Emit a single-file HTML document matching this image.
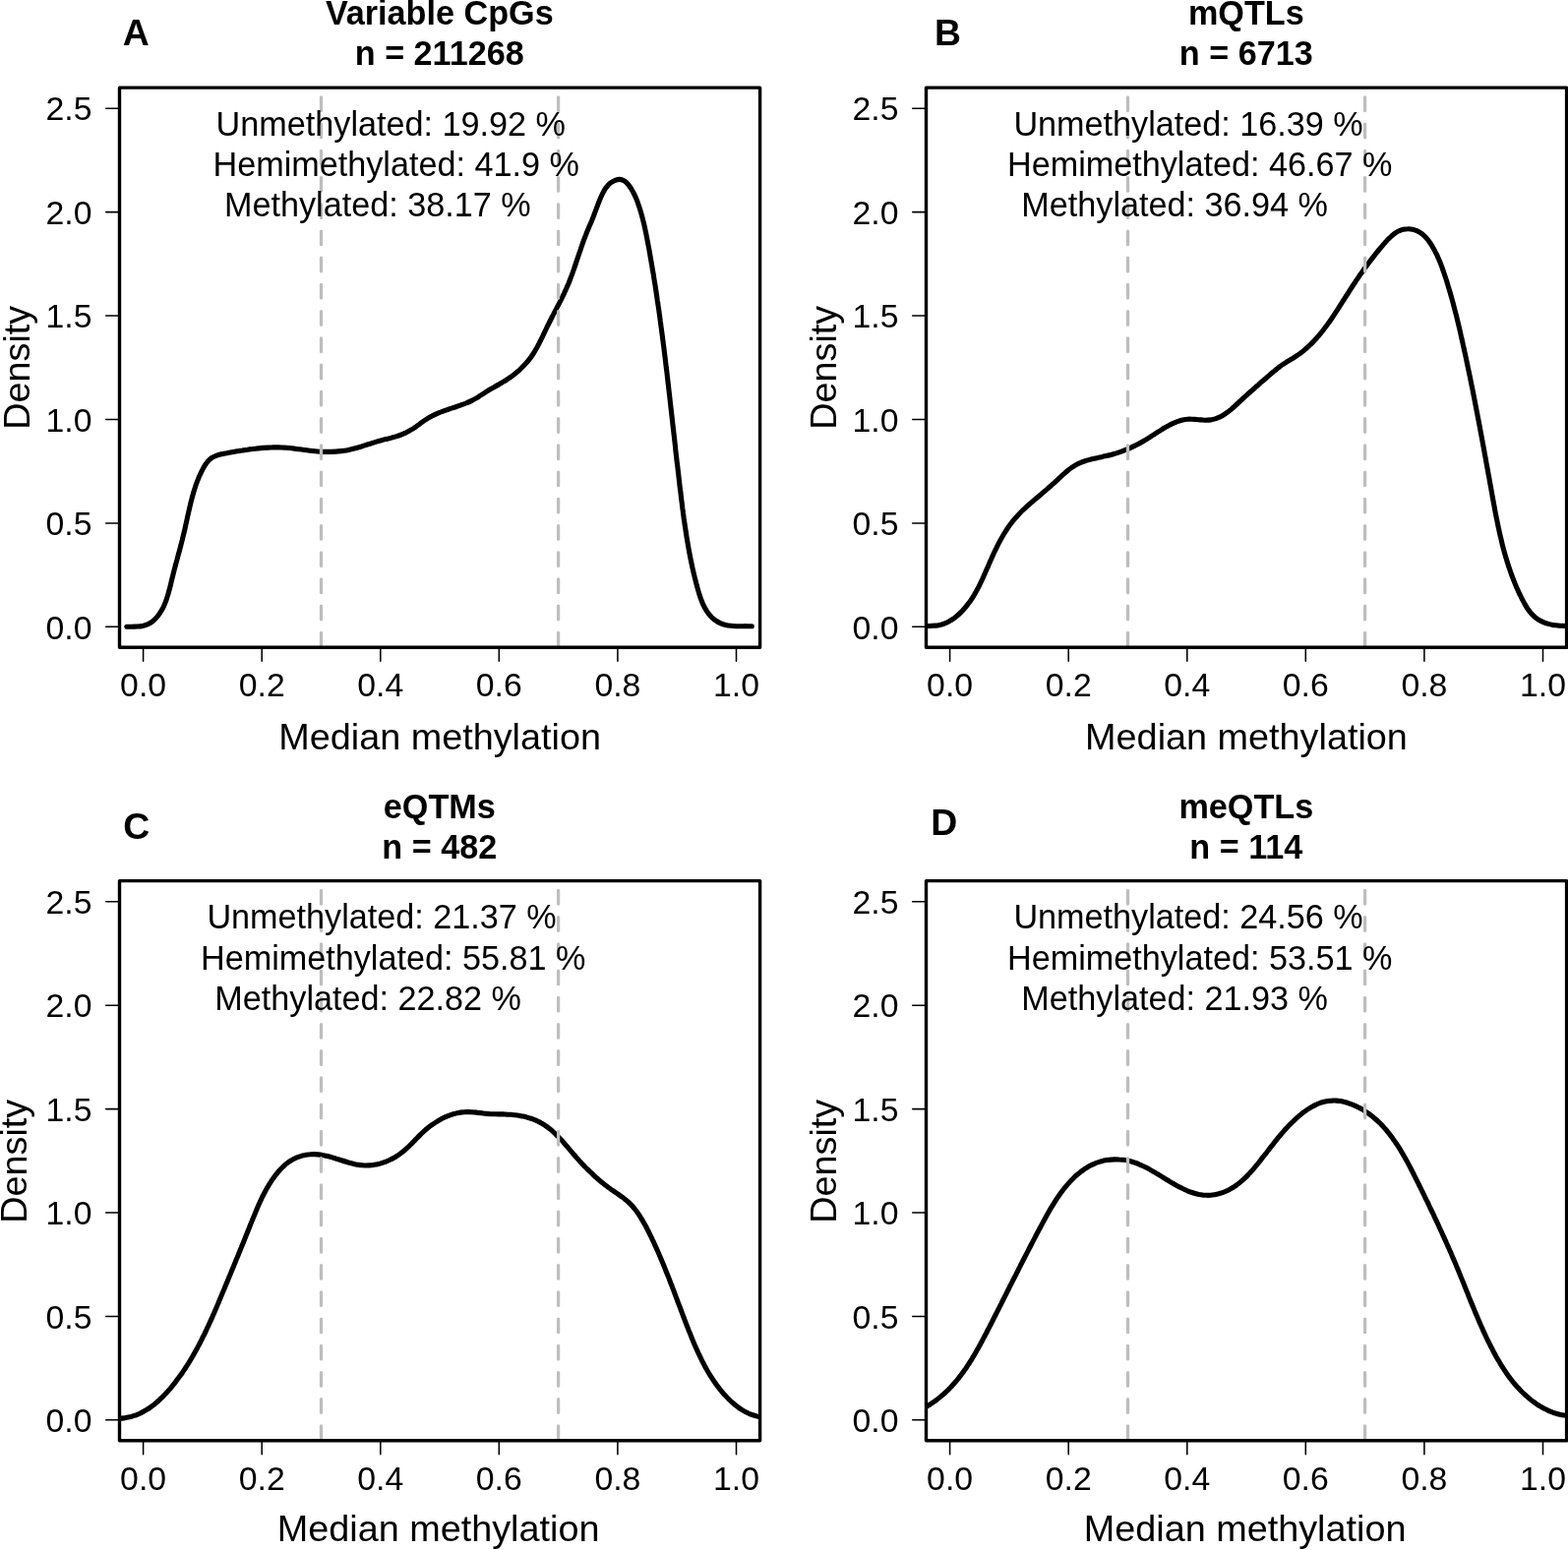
<!DOCTYPE html>
<html lang="en"><head><meta charset="utf-8"><title>Median methylation density</title>
<style>
html,body{margin:0;padding:0;background:#fff;}
body{width:1594px;height:1576px;overflow:hidden;}
svg{display:block;font-family:"Liberation Sans", sans-serif;fill:#000;}
.ax{font-size:33.8px;}
.lab{font-size:37.8px;}
.main{font-size:34.2px;font-weight:bold;}
.tag{font-size:37.4px;font-weight:bold;}
.txt{font-size:34.2px;}
.box{fill:none;stroke:#000;stroke-width:3.4;stroke-linejoin:round;}
.tick{stroke:#000;stroke-width:1.55;fill:none;stroke-linecap:round;}
.dash{stroke:#bebebe;stroke-width:3.3;stroke-dasharray:13.615 13.615;stroke-linecap:round;fill:none;}
.curve{fill:none;stroke:#000;stroke-width:5.1;stroke-linecap:round;stroke-linejoin:round;}
</style></head><body>
<svg width="1594" height="1576" viewBox="0 0 1594 1576">
<rect x="0" y="0" width="1594" height="1576" fill="#fff"/>

<g id="panelA">
<clipPath id="clipA"><rect x="121.5" y="89.1" width="651.1" height="569.2"/></clipPath>
<path class="curve" clip-path="url(#clipA)" d="M128.8,637.3C129.7,637.2 132.2,637.2 133.9,637.2C135.7,637.1 137.6,637.1 139.4,637.0C141.2,636.9 143.1,636.8 144.8,636.4C146.6,636.1 148.3,635.6 149.9,634.9C151.5,634.2 153.0,633.3 154.4,632.3C155.8,631.3 157.1,630.1 158.3,628.8C159.6,627.5 160.7,626.1 161.7,624.6C162.8,623.2 163.7,621.7 164.6,620.1C165.4,618.6 166.2,617.0 166.9,615.4C167.7,613.8 168.3,612.1 168.9,610.5C169.5,608.8 170.0,607.1 170.5,605.4C171.1,603.8 171.5,602.0 172.0,600.3C172.4,598.6 172.9,596.9 173.3,595.1C173.7,593.4 174.1,591.7 174.5,590.0C175.0,588.2 175.4,586.5 175.8,584.8C176.2,583.1 176.7,581.4 177.1,579.6C177.6,577.9 178.0,576.2 178.5,574.5C178.9,572.8 179.4,571.1 179.9,569.4C180.3,567.7 180.8,566.0 181.2,564.3C181.7,562.6 182.2,560.9 182.6,559.1C183.1,557.4 183.5,555.7 184.0,554.0C184.4,552.3 184.8,550.6 185.3,548.9C185.7,547.2 186.1,545.5 186.5,543.7C187.0,542.0 187.4,540.3 187.8,538.6C188.2,536.8 188.5,535.1 188.9,533.4C189.3,531.6 189.7,529.9 190.1,528.2C190.4,526.4 190.8,524.7 191.2,523.0C191.6,521.2 192.0,519.5 192.4,517.8C192.8,516.0 193.2,514.3 193.6,512.6C194.0,510.9 194.4,509.2 194.9,507.4C195.3,505.7 195.8,504.0 196.3,502.3C196.8,500.6 197.3,498.9 197.8,497.3C198.4,495.6 198.9,493.9 199.5,492.2C200.1,490.6 200.7,488.9 201.4,487.3C202.0,485.7 202.7,484.0 203.5,482.4C204.2,480.8 205.0,479.2 205.8,477.6C206.6,476.1 207.4,474.5 208.4,473.0C209.4,471.5 210.4,470.0 211.6,468.7C212.8,467.4 214.1,466.2 215.6,465.3C217.1,464.4 218.7,463.7 220.3,463.1C221.9,462.5 223.7,462.1 225.4,461.7C227.1,461.3 228.8,461.0 230.6,460.7C232.3,460.3 234.1,460.0 235.9,459.7C237.6,459.4 239.4,459.1 241.1,458.8C242.9,458.5 244.6,458.2 246.4,458.0C248.2,457.7 249.9,457.4 251.7,457.2C253.4,456.9 255.2,456.7 257.0,456.5C258.7,456.3 260.5,456.1 262.2,455.9C264.0,455.7 265.8,455.6 267.5,455.4C269.3,455.3 271.1,455.2 272.8,455.1C274.6,455.0 276.3,455.0 278.1,454.9C279.9,454.9 281.6,454.9 283.4,454.9C285.1,455.0 286.9,455.0 288.7,455.1C290.4,455.2 292.2,455.4 293.9,455.5C295.7,455.7 297.4,455.9 299.2,456.1C300.9,456.3 302.7,456.6 304.5,456.8C306.2,457.1 308.0,457.3 309.7,457.5C311.5,457.8 313.2,458.0 315.0,458.2C316.8,458.4 318.5,458.6 320.3,458.8C322.1,459.0 323.9,459.1 325.6,459.2C327.4,459.3 329.2,459.4 331.0,459.4C332.8,459.4 334.5,459.4 336.3,459.4C338.1,459.3 339.9,459.2 341.6,459.1C343.4,459.0 345.2,458.8 346.9,458.6C348.7,458.4 350.4,458.2 352.2,457.9C353.9,457.6 355.6,457.2 357.3,456.8C359.0,456.4 360.7,456.0 362.4,455.5C364.1,455.0 365.8,454.5 367.5,454.0C369.2,453.4 370.9,452.9 372.6,452.3C374.2,451.8 375.9,451.2 377.6,450.7C379.3,450.1 381.0,449.6 382.7,449.1C384.4,448.6 386.1,448.1 387.8,447.7C389.5,447.2 391.3,446.8 393.0,446.4C394.7,446.0 396.5,445.6 398.2,445.1C399.9,444.7 401.6,444.2 403.3,443.6C404.9,443.1 406.6,442.5 408.2,441.8C409.9,441.2 411.5,440.4 413.0,439.7C414.6,438.9 416.2,438.0 417.7,437.1C419.2,436.3 420.7,435.3 422.2,434.3C423.7,433.3 425.1,432.2 426.5,431.2C428.0,430.1 429.4,429.0 430.8,428.0C432.3,427.0 433.8,426.0 435.3,425.1C436.8,424.2 438.4,423.4 439.9,422.6C441.5,421.8 443.1,421.1 444.7,420.4C446.4,419.7 448.0,419.0 449.7,418.4C451.3,417.8 453.0,417.2 454.7,416.6C456.4,416.0 458.0,415.4 459.7,414.9C461.4,414.3 463.1,413.7 464.8,413.2C466.5,412.6 468.1,412.0 469.8,411.4C471.5,410.8 473.1,410.2 474.8,409.5C476.4,408.9 478.0,408.2 479.6,407.4C481.1,406.6 482.7,405.8 484.2,404.9C485.7,404.0 487.1,403.0 488.6,402.0C490.1,401.0 491.6,400.0 493.1,399.1C494.6,398.1 496.1,397.2 497.6,396.3C499.1,395.4 500.6,394.5 502.2,393.7C503.7,392.8 505.2,391.9 506.8,391.1C508.3,390.2 509.8,389.3 511.3,388.4C512.9,387.5 514.4,386.6 515.8,385.6C517.3,384.6 518.8,383.6 520.2,382.6C521.6,381.5 523.1,380.4 524.4,379.3C525.8,378.1 527.2,377.0 528.5,375.8C529.8,374.5 531.1,373.3 532.3,372.0C533.5,370.7 534.7,369.4 535.9,368.1C537.0,366.7 538.1,365.3 539.2,363.9C540.2,362.5 541.2,361.0 542.2,359.5C543.1,358.1 544.0,356.6 544.9,355.0C545.8,353.5 546.6,351.9 547.4,350.4C548.3,348.8 549.0,347.2 549.8,345.7C550.6,344.1 551.4,342.5 552.1,340.9C552.9,339.3 553.6,337.7 554.4,336.1C555.2,334.5 555.9,332.8 556.7,331.3C557.5,329.7 558.3,328.1 559.1,326.5C559.9,324.9 560.7,323.3 561.5,321.8C562.3,320.2 563.2,318.6 564.0,317.0C564.8,315.5 565.6,313.9 566.4,312.3C567.3,310.8 568.1,309.2 568.9,307.6C569.7,306.0 570.5,304.5 571.3,302.9C572.0,301.3 572.8,299.7 573.6,298.1C574.3,296.5 575.1,294.9 575.8,293.3C576.5,291.7 577.2,290.0 577.9,288.4C578.5,286.8 579.2,285.1 579.8,283.5C580.5,281.8 581.1,280.2 581.7,278.5C582.3,276.8 582.9,275.2 583.5,273.5C584.0,271.8 584.6,270.1 585.2,268.5C585.7,266.8 586.3,265.1 586.9,263.4C587.4,261.7 588.0,260.0 588.6,258.4C589.1,256.7 589.7,255.0 590.3,253.3C590.8,251.6 591.4,250.0 592.0,248.3C592.6,246.6 593.2,245.0 593.8,243.3C594.4,241.7 595.0,240.0 595.7,238.4C596.3,236.7 597.0,235.1 597.7,233.5C598.4,231.8 599.1,230.2 599.8,228.6C600.5,227.0 601.2,225.4 601.9,223.7C602.5,222.1 603.1,220.4 603.8,218.8C604.4,217.1 605.0,215.4 605.6,213.8C606.2,212.1 606.8,210.5 607.5,208.9C608.1,207.2 608.8,205.6 609.4,204.0C610.1,202.3 610.8,200.7 611.5,199.1C612.3,197.4 613.0,195.8 613.9,194.2C614.7,192.7 615.7,191.2 616.8,189.8C617.9,188.4 619.1,187.1 620.5,186.0C621.9,185.0 623.6,183.9 625.3,183.3C627.0,182.7 628.9,182.2 630.5,182.4C632.1,182.5 633.6,183.3 635.0,184.2C636.4,185.1 637.6,186.5 638.8,187.8C639.9,189.2 641.0,190.8 641.9,192.3C642.9,193.8 643.7,195.4 644.5,197.0C645.3,198.6 646.0,200.2 646.7,201.8C647.4,203.5 648.0,205.1 648.6,206.8C649.2,208.5 649.7,210.2 650.3,211.8C650.8,213.5 651.3,215.2 651.8,216.9C652.3,218.6 652.7,220.3 653.2,222.0C653.6,223.7 654.1,225.5 654.5,227.2C654.9,228.9 655.3,230.6 655.7,232.4C656.0,234.1 656.4,235.8 656.8,237.6C657.1,239.3 657.5,241.0 657.8,242.8C658.1,244.5 658.5,246.2 658.8,248.0C659.1,249.7 659.4,251.5 659.8,253.2C660.1,255.0 660.4,256.7 660.7,258.4C661.0,260.2 661.3,261.9 661.6,263.7C661.9,265.4 662.2,267.2 662.5,268.9C662.8,270.7 663.1,272.4 663.4,274.2C663.7,275.9 664.0,277.6 664.3,279.4C664.6,281.1 664.8,282.9 665.1,284.6C665.4,286.4 665.7,288.1 666.0,289.9C666.2,291.6 666.5,293.4 666.8,295.1C667.0,296.9 667.3,298.6 667.6,300.4C667.8,302.1 668.1,303.9 668.3,305.6C668.6,307.4 668.9,309.1 669.1,310.9C669.4,312.6 669.6,314.4 669.9,316.1C670.1,317.9 670.4,319.6 670.6,321.4C670.8,323.1 671.1,324.9 671.3,326.6C671.6,328.4 671.8,330.2 672.0,331.9C672.3,333.7 672.5,335.4 672.7,337.2C673.0,338.9 673.2,340.7 673.4,342.4C673.6,344.2 673.9,345.9 674.1,347.7C674.3,349.4 674.5,351.2 674.8,353.0C675.0,354.7 675.2,356.5 675.4,358.2C675.6,360.0 675.9,361.7 676.1,363.5C676.3,365.2 676.5,367.0 676.7,368.8C676.9,370.5 677.1,372.3 677.3,374.0C677.6,375.8 677.8,377.5 678.0,379.3C678.2,381.1 678.4,382.8 678.6,384.6C678.8,386.3 679.0,388.1 679.2,389.9C679.4,391.6 679.6,393.4 679.8,395.1C680.0,396.9 680.2,398.6 680.4,400.4C680.6,402.2 680.8,403.9 681.0,405.7C681.2,407.4 681.4,409.2 681.6,411.0C681.8,412.7 682.0,414.5 682.2,416.2C682.4,418.0 682.6,419.8 682.8,421.5C683.0,423.3 683.2,425.0 683.4,426.8C683.6,428.6 683.8,430.3 684.0,432.1C684.2,433.8 684.4,435.6 684.6,437.4C684.8,439.1 685.0,440.9 685.2,442.6C685.4,444.4 685.6,446.2 685.8,447.9C686.0,449.7 686.2,451.4 686.4,453.2C686.6,455.0 686.7,456.7 686.9,458.5C687.1,460.2 687.3,462.0 687.5,463.8C687.7,465.5 687.9,467.3 688.1,469.0C688.3,470.8 688.6,472.6 688.8,474.3C689.0,476.1 689.2,477.8 689.4,479.6C689.6,481.4 689.8,483.1 690.0,484.9C690.2,486.7 690.4,488.4 690.6,490.2C690.8,491.9 691.0,493.7 691.2,495.5C691.4,497.2 691.7,499.0 691.9,500.7C692.1,502.5 692.3,504.3 692.5,506.0C692.7,507.8 692.9,509.5 693.2,511.3C693.4,513.1 693.6,514.8 693.8,516.6C694.1,518.3 694.3,520.1 694.5,521.8C694.8,523.6 695.0,525.4 695.2,527.1C695.5,528.9 695.7,530.6 696.0,532.4C696.2,534.1 696.5,535.9 696.8,537.6C697.0,539.4 697.3,541.1 697.6,542.9C697.8,544.6 698.1,546.4 698.4,548.1C698.7,549.9 699.0,551.6 699.3,553.4C699.6,555.1 699.9,556.8 700.2,558.6C700.5,560.3 700.8,562.1 701.2,563.8C701.5,565.5 701.8,567.3 702.2,569.0C702.5,570.7 702.9,572.5 703.3,574.2C703.6,575.9 704.0,577.6 704.4,579.3C704.8,581.1 705.2,582.8 705.6,584.5C706.0,586.2 706.4,587.9 706.9,589.6C707.3,591.4 707.8,593.1 708.2,594.8C708.7,596.5 709.1,598.2 709.6,599.9C710.1,601.6 710.6,603.3 711.1,604.9C711.7,606.6 712.2,608.3 712.9,610.0C713.5,611.6 714.2,613.3 714.9,614.9C715.7,616.6 716.5,618.2 717.5,619.7C718.4,621.3 719.4,622.8 720.5,624.2C721.6,625.6 722.8,627.0 724.0,628.2C725.3,629.4 726.7,630.5 728.2,631.4C729.6,632.4 731.2,633.2 732.8,633.9C734.4,634.6 736.1,635.1 737.8,635.5C739.5,635.9 741.2,636.1 743.0,636.3C744.8,636.5 746.6,636.6 748.4,636.7C750.2,636.7 752.0,636.7 753.8,636.7C755.5,636.7 757.3,636.6 759.1,636.7C760.9,636.7 763.5,636.8 764.3,636.8"/>
<path class="dash" d="M326.5,657.1V89.1"/>
<path class="dash" d="M567.6,657.1V89.1"/>
<text class="txt" x="219.6" y="137.9">Unmethylated: 19.92 %</text>
<text class="txt" x="216.5" y="179.2">Hemimethylated: 41.9 %</text>
<text class="txt" x="228.0" y="220.0">Methylated: 38.17 %</text>
<rect class="box" x="121.5" y="89.1" width="651.1" height="569.2"/>
<path class="tick" d="M145.6,658.4v13.8M266.2,658.4v13.8M386.8,658.4v13.8M507.3,658.4v13.8M627.9,658.4v13.8M748.5,658.4v13.8M121.5,637.3h-13.8M121.5,531.9h-13.8M121.5,426.4h-13.8M121.5,321.0h-13.8M121.5,215.6h-13.8M121.5,110.2h-13.8"/>
<text class="ax" text-anchor="middle" x="145.6" y="708.0">0.0</text>
<text class="ax" text-anchor="middle" x="266.2" y="708.0">0.2</text>
<text class="ax" text-anchor="middle" x="386.8" y="708.0">0.4</text>
<text class="ax" text-anchor="middle" x="507.3" y="708.0">0.6</text>
<text class="ax" text-anchor="middle" x="627.9" y="708.0">0.8</text>
<text class="ax" text-anchor="middle" x="748.5" y="708.0">1.0</text>
<text class="ax" text-anchor="end" x="93.5" y="649.5">0.0</text>
<text class="ax" text-anchor="end" x="93.5" y="544.1">0.5</text>
<text class="ax" text-anchor="end" x="93.5" y="438.6">1.0</text>
<text class="ax" text-anchor="end" x="93.5" y="333.2">1.5</text>
<text class="ax" text-anchor="end" x="93.5" y="227.8">2.0</text>
<text class="ax" text-anchor="end" x="93.5" y="122.4">2.5</text>
<text class="lab" text-anchor="middle" x="447.1" y="762.2">Median methylation</text>
<text class="lab" text-anchor="middle" transform="translate(30.2,373.8) rotate(-90)">Density</text>
<text class="main" text-anchor="middle" x="446.8" y="25.1">Variable CpGs</text>
<text class="main" text-anchor="middle" x="446.8" y="66.2">n = 211268</text>
<text class="tag" x="124.7" y="45.9">A</text>
</g>
<g id="panelB">
<clipPath id="clipB"><rect x="941.5" y="89.1" width="651.1" height="569.2"/></clipPath>
<path class="curve" clip-path="url(#clipB)" d="M936.8,636.8C937.6,636.7 939.9,636.5 941.5,636.5C943.1,636.4 944.7,636.4 946.3,636.4C947.9,636.3 949.6,636.3 951.2,636.1C952.8,636.0 954.3,635.7 955.9,635.4C957.4,635.0 958.9,634.5 960.4,633.9C961.8,633.3 963.3,632.6 964.6,631.9C966.0,631.1 967.4,630.3 968.7,629.4C970.0,628.5 971.2,627.5 972.5,626.5C973.7,625.5 974.9,624.5 976.0,623.4C977.1,622.3 978.2,621.2 979.3,620.0C980.3,618.9 981.3,617.7 982.3,616.5C983.3,615.3 984.2,614.1 985.1,612.8C986.1,611.6 986.9,610.3 987.8,609.0C988.7,607.7 989.5,606.3 990.3,605.0C991.1,603.6 991.9,602.3 992.6,600.9C993.4,599.5 994.1,598.1 994.9,596.7C995.6,595.3 996.3,593.8 997.0,592.4C997.7,591.0 998.3,589.5 999.0,588.1C999.7,586.6 1000.3,585.1 1001.0,583.7C1001.6,582.2 1002.3,580.7 1002.9,579.3C1003.6,577.8 1004.2,576.3 1004.9,574.8C1005.5,573.3 1006.1,571.9 1006.8,570.4C1007.4,568.9 1008.1,567.5 1008.7,566.0C1009.4,564.6 1010.0,563.1 1010.7,561.7C1011.4,560.2 1012.1,558.8 1012.8,557.4C1013.5,555.9 1014.2,554.5 1014.9,553.1C1015.6,551.7 1016.4,550.3 1017.1,549.0C1017.9,547.6 1018.7,546.2 1019.4,544.9C1020.2,543.5 1021.0,542.2 1021.9,540.9C1022.7,539.5 1023.6,538.2 1024.4,536.9C1025.3,535.6 1026.2,534.4 1027.1,533.1C1028.1,531.9 1029.0,530.6 1030.0,529.4C1031.0,528.2 1032.0,527.0 1033.0,525.8C1034.1,524.6 1035.2,523.5 1036.2,522.3C1037.3,521.2 1038.5,520.1 1039.6,518.9C1040.8,517.8 1041.9,516.8 1043.1,515.7C1044.3,514.6 1045.5,513.5 1046.7,512.5C1047.9,511.4 1049.1,510.4 1050.3,509.3C1051.6,508.3 1052.8,507.3 1054.0,506.3C1055.2,505.2 1056.4,504.2 1057.6,503.2C1058.8,502.2 1060.0,501.2 1061.2,500.1C1062.4,499.1 1063.5,498.1 1064.7,497.1C1065.9,496.0 1067.1,495.0 1068.3,494.0C1069.4,492.9 1070.6,491.9 1071.8,490.8C1072.9,489.8 1074.1,488.7 1075.3,487.6C1076.5,486.5 1077.6,485.4 1078.8,484.3C1080.0,483.2 1081.2,482.1 1082.4,481.1C1083.6,480.0 1084.8,479.0 1086.0,478.0C1087.3,477.0 1088.6,476.0 1089.9,475.2C1091.1,474.3 1092.5,473.4 1093.8,472.7C1095.2,471.9 1096.6,471.3 1098.0,470.7C1099.4,470.0 1100.9,469.5 1102.4,469.0C1103.8,468.5 1105.3,468.0 1106.9,467.6C1108.4,467.2 1109.9,466.8 1111.4,466.4C1113.0,466.1 1114.5,465.7 1116.1,465.4C1117.7,465.0 1119.2,464.7 1120.8,464.4C1122.4,464.0 1123.9,463.7 1125.5,463.3C1127.0,463.0 1128.6,462.6 1130.1,462.2C1131.6,461.8 1133.2,461.3 1134.7,460.9C1136.2,460.4 1137.7,459.9 1139.2,459.4C1140.7,458.8 1142.2,458.3 1143.6,457.7C1145.1,457.1 1146.6,456.5 1148.0,455.9C1149.4,455.3 1150.9,454.6 1152.3,453.9C1153.7,453.2 1155.1,452.5 1156.5,451.8C1157.9,451.1 1159.3,450.3 1160.7,449.5C1162.1,448.7 1163.4,447.9 1164.8,447.1C1166.1,446.3 1167.5,445.4 1168.8,444.6C1170.2,443.7 1171.5,442.9 1172.8,442.0C1174.2,441.1 1175.5,440.3 1176.8,439.4C1178.2,438.5 1179.5,437.7 1180.9,436.9C1182.2,436.0 1183.6,435.2 1184.9,434.4C1186.3,433.6 1187.7,432.9 1189.1,432.1C1190.5,431.4 1191.9,430.7 1193.3,430.1C1194.8,429.4 1196.2,428.8 1197.7,428.3C1199.2,427.8 1200.7,427.4 1202.2,427.0C1203.7,426.7 1205.2,426.4 1206.8,426.3C1208.3,426.1 1209.9,426.1 1211.5,426.2C1213.1,426.2 1214.7,426.4 1216.3,426.5C1217.9,426.6 1219.5,426.8 1221.1,426.9C1222.7,427.0 1224.3,427.2 1225.9,427.2C1227.5,427.1 1229.1,427.1 1230.6,426.9C1232.2,426.6 1233.7,426.3 1235.2,425.9C1236.7,425.4 1238.2,424.8 1239.6,424.2C1241.0,423.5 1242.4,422.8 1243.7,422.0C1245.1,421.2 1246.4,420.3 1247.6,419.3C1248.9,418.4 1250.1,417.4 1251.4,416.4C1252.6,415.3 1253.8,414.2 1255.0,413.2C1256.2,412.1 1257.4,411.0 1258.5,409.9C1259.7,408.8 1260.9,407.7 1262.1,406.6C1263.2,405.5 1264.4,404.5 1265.6,403.4C1266.8,402.3 1267.9,401.3 1269.1,400.2C1270.3,399.1 1271.5,398.1 1272.6,397.1C1273.8,396.0 1275.0,395.0 1276.2,393.9C1277.3,392.9 1278.5,391.9 1279.7,390.8C1280.9,389.8 1282.0,388.8 1283.2,387.7C1284.4,386.7 1285.6,385.7 1286.8,384.7C1288.0,383.6 1289.1,382.6 1290.3,381.6C1291.5,380.5 1292.7,379.5 1293.9,378.5C1295.1,377.5 1296.4,376.5 1297.6,375.5C1298.8,374.5 1300.1,373.5 1301.3,372.5C1302.6,371.6 1303.9,370.7 1305.2,369.8C1306.6,368.9 1308.0,368.1 1309.3,367.2C1310.7,366.4 1312.1,365.6 1313.5,364.8C1314.9,363.9 1316.2,363.1 1317.6,362.2C1318.9,361.3 1320.2,360.4 1321.5,359.5C1322.7,358.6 1324.0,357.6 1325.2,356.6C1326.4,355.6 1327.6,354.6 1328.8,353.5C1330.0,352.5 1331.1,351.4 1332.2,350.3C1333.4,349.2 1334.5,348.1 1335.5,347.0C1336.6,345.8 1337.7,344.7 1338.7,343.5C1339.8,342.3 1340.8,341.1 1341.8,339.9C1342.8,338.7 1343.8,337.5 1344.8,336.2C1345.7,335.0 1346.7,333.7 1347.6,332.4C1348.6,331.2 1349.5,329.9 1350.4,328.6C1351.4,327.3 1352.3,326.0 1353.2,324.7C1354.1,323.4 1355.0,322.1 1355.8,320.7C1356.7,319.4 1357.6,318.1 1358.5,316.7C1359.3,315.4 1360.2,314.1 1361.1,312.7C1361.9,311.4 1362.8,310.0 1363.6,308.7C1364.5,307.4 1365.3,306.0 1366.2,304.7C1367.0,303.3 1367.9,302.0 1368.7,300.7C1369.6,299.3 1370.4,298.0 1371.3,296.7C1372.1,295.4 1373.0,294.0 1373.8,292.7C1374.7,291.4 1375.5,290.1 1376.4,288.8C1377.3,287.5 1378.1,286.2 1379.0,284.9C1379.9,283.6 1380.8,282.3 1381.6,281.0C1382.5,279.7 1383.4,278.5 1384.3,277.2C1385.2,275.9 1386.1,274.6 1387.0,273.3C1387.9,272.1 1388.9,270.8 1389.8,269.5C1390.7,268.3 1391.7,267.0 1392.6,265.7C1393.6,264.5 1394.5,263.2 1395.5,262.0C1396.5,260.7 1397.4,259.5 1398.4,258.2C1399.4,257.0 1400.4,255.7 1401.4,254.5C1402.5,253.2 1403.5,252.0 1404.5,250.8C1405.6,249.5 1406.6,248.3 1407.7,247.1C1408.8,245.8 1409.9,244.6 1411.0,243.4C1412.1,242.3 1413.3,241.1 1414.5,240.1C1415.7,239.0 1416.9,238.0 1418.2,237.1C1419.5,236.3 1420.8,235.5 1422.2,234.8C1423.6,234.2 1425.0,233.7 1426.5,233.3C1428.0,233.0 1429.6,232.8 1431.2,232.8C1432.8,232.7 1434.4,232.9 1435.9,233.2C1437.4,233.5 1438.9,234.0 1440.3,234.6C1441.7,235.2 1443.0,236.0 1444.3,236.8C1445.6,237.7 1446.7,238.7 1447.9,239.8C1449.0,240.9 1450.1,242.1 1451.1,243.3C1452.1,244.6 1453.1,245.9 1454.0,247.3C1454.9,248.6 1455.8,250.0 1456.6,251.5C1457.4,252.9 1458.2,254.3 1458.9,255.7C1459.7,257.1 1460.4,258.6 1461.1,260.0C1461.7,261.5 1462.4,262.9 1463.0,264.4C1463.6,265.8 1464.2,267.3 1464.8,268.7C1465.3,270.2 1465.9,271.6 1466.4,273.1C1466.9,274.6 1467.4,276.1 1467.9,277.5C1468.4,279.0 1468.9,280.5 1469.4,282.0C1469.9,283.5 1470.4,285.0 1470.9,286.5C1471.3,288.0 1471.8,289.5 1472.2,291.0C1472.7,292.5 1473.1,294.0 1473.6,295.5C1474.0,297.0 1474.5,298.5 1474.9,300.0C1475.3,301.6 1475.8,303.1 1476.2,304.6C1476.6,306.1 1477.0,307.6 1477.4,309.2C1477.8,310.7 1478.2,312.2 1478.6,313.8C1479.0,315.3 1479.4,316.8 1479.8,318.4C1480.2,319.9 1480.6,321.4 1481.0,323.0C1481.3,324.5 1481.7,326.1 1482.1,327.6C1482.5,329.2 1482.8,330.7 1483.2,332.2C1483.6,333.8 1483.9,335.3 1484.3,336.9C1484.6,338.4 1485.0,340.0 1485.3,341.5C1485.7,343.1 1486.0,344.6 1486.4,346.2C1486.7,347.7 1487.1,349.3 1487.4,350.8C1487.8,352.4 1488.1,353.9 1488.4,355.5C1488.8,357.0 1489.1,358.6 1489.5,360.1C1489.8,361.7 1490.1,363.2 1490.5,364.8C1490.8,366.3 1491.1,367.9 1491.4,369.4C1491.8,371.0 1492.1,372.5 1492.4,374.1C1492.7,375.6 1493.1,377.2 1493.4,378.7C1493.7,380.3 1494.0,381.8 1494.4,383.4C1494.7,384.9 1495.0,386.5 1495.3,388.0C1495.6,389.6 1495.9,391.1 1496.2,392.7C1496.6,394.2 1496.9,395.8 1497.2,397.3C1497.5,398.9 1497.8,400.4 1498.1,402.0C1498.4,403.5 1498.7,405.1 1499.0,406.6C1499.3,408.2 1499.6,409.7 1499.9,411.3C1500.2,412.8 1500.5,414.4 1500.8,415.9C1501.1,417.5 1501.4,419.0 1501.7,420.6C1502.0,422.1 1502.3,423.7 1502.6,425.2C1502.9,426.8 1503.2,428.3 1503.5,429.9C1503.8,431.4 1504.1,433.0 1504.4,434.5C1504.6,436.1 1504.9,437.6 1505.2,439.2C1505.5,440.7 1505.8,442.3 1506.1,443.8C1506.4,445.4 1506.7,446.9 1507.0,448.5C1507.2,450.0 1507.5,451.6 1507.8,453.1C1508.1,454.7 1508.4,456.3 1508.7,457.8C1509.0,459.4 1509.2,460.9 1509.5,462.5C1509.8,464.0 1510.1,465.6 1510.4,467.1C1510.7,468.7 1510.9,470.3 1511.2,471.8C1511.5,473.4 1511.8,474.9 1512.1,476.5C1512.4,478.0 1512.6,479.6 1512.9,481.2C1513.2,482.7 1513.5,484.3 1513.8,485.8C1514.1,487.4 1514.3,488.9 1514.6,490.5C1514.9,492.1 1515.2,493.6 1515.5,495.2C1515.7,496.7 1516.0,498.3 1516.3,499.9C1516.6,501.4 1516.9,503.0 1517.1,504.5C1517.4,506.1 1517.7,507.7 1518.0,509.2C1518.3,510.8 1518.6,512.4 1518.9,513.9C1519.2,515.5 1519.4,517.0 1519.7,518.6C1520.0,520.2 1520.3,521.7 1520.6,523.3C1520.9,524.8 1521.2,526.4 1521.6,528.0C1521.9,529.5 1522.2,531.1 1522.5,532.6C1522.8,534.2 1523.1,535.7 1523.5,537.3C1523.8,538.8 1524.2,540.4 1524.5,541.9C1524.8,543.5 1525.2,545.0 1525.6,546.6C1525.9,548.1 1526.3,549.6 1526.7,551.2C1527.0,552.7 1527.4,554.3 1527.8,555.8C1528.2,557.3 1528.6,558.9 1529.0,560.4C1529.5,561.9 1529.9,563.4 1530.3,565.0C1530.8,566.5 1531.2,568.0 1531.7,569.5C1532.1,571.0 1532.6,572.5 1533.1,574.0C1533.5,575.5 1534.0,577.0 1534.6,578.5C1535.1,580.0 1535.6,581.5 1536.1,583.0C1536.7,584.5 1537.2,586.0 1537.8,587.5C1538.3,589.0 1538.9,590.4 1539.5,591.9C1540.1,593.4 1540.7,594.9 1541.3,596.3C1542.0,597.8 1542.6,599.2 1543.3,600.7C1543.9,602.1 1544.6,603.6 1545.3,605.0C1546.0,606.5 1546.7,607.9 1547.4,609.3C1548.2,610.7 1548.9,612.2 1549.7,613.6C1550.5,615.0 1551.3,616.3 1552.1,617.7C1553.0,619.0 1553.9,620.3 1554.9,621.6C1555.8,622.8 1556.8,624.0 1557.9,625.1C1559.0,626.2 1560.1,627.3 1561.3,628.2C1562.6,629.2 1563.9,630.0 1565.2,630.8C1566.6,631.6 1568.0,632.3 1569.5,632.9C1571.0,633.5 1572.5,634.0 1574.1,634.4C1575.6,634.8 1577.2,635.1 1578.8,635.4C1580.3,635.7 1581.9,635.8 1583.5,636.0C1585.1,636.2 1586.7,636.2 1588.3,636.3C1589.9,636.4 1591.5,636.5 1593.0,636.6C1594.6,636.6 1596.9,636.8 1597.7,636.8"/>
<path class="dash" d="M1146.5,657.1V89.1"/>
<path class="dash" d="M1387.6,657.1V89.1"/>
<text class="txt" x="1030.4" y="137.9">Unmethylated: 16.39 %</text>
<text class="txt" x="1024.0" y="179.2">Hemimethylated: 46.67 %</text>
<text class="txt" x="1038.3" y="220.0">Methylated: 36.94 %</text>
<rect class="box" x="941.5" y="89.1" width="651.1" height="569.2"/>
<path class="tick" d="M965.6,658.4v13.8M1086.2,658.4v13.8M1206.8,658.4v13.8M1327.3,658.4v13.8M1447.9,658.4v13.8M1568.5,658.4v13.8M941.5,637.3h-13.8M941.5,531.9h-13.8M941.5,426.4h-13.8M941.5,321.0h-13.8M941.5,215.6h-13.8M941.5,110.2h-13.8"/>
<text class="ax" text-anchor="middle" x="965.6" y="708.0">0.0</text>
<text class="ax" text-anchor="middle" x="1086.2" y="708.0">0.2</text>
<text class="ax" text-anchor="middle" x="1206.8" y="708.0">0.4</text>
<text class="ax" text-anchor="middle" x="1327.3" y="708.0">0.6</text>
<text class="ax" text-anchor="middle" x="1447.9" y="708.0">0.8</text>
<text class="ax" text-anchor="middle" x="1568.5" y="708.0">1.0</text>
<text class="ax" text-anchor="end" x="913.5" y="649.5">0.0</text>
<text class="ax" text-anchor="end" x="913.5" y="544.1">0.5</text>
<text class="ax" text-anchor="end" x="913.5" y="438.6">1.0</text>
<text class="ax" text-anchor="end" x="913.5" y="333.2">1.5</text>
<text class="ax" text-anchor="end" x="913.5" y="227.8">2.0</text>
<text class="ax" text-anchor="end" x="913.5" y="122.4">2.5</text>
<text class="lab" text-anchor="middle" x="1267.0" y="762.2">Median methylation</text>
<text class="lab" text-anchor="middle" transform="translate(850.2,373.8) rotate(-90)">Density</text>
<text class="main" text-anchor="middle" x="1266.8" y="25.1">mQTLs</text>
<text class="main" text-anchor="middle" x="1266.8" y="66.2">n = 6713</text>
<text class="tag" x="949.9" y="45.9">B</text>
</g>
<g id="panelC">
<clipPath id="clipC"><rect x="121.5" y="895.6" width="651.1" height="569.2"/></clipPath>
<path class="curve" clip-path="url(#clipC)" d="M121.8,1442.3C122.6,1442.2 124.8,1442.0 126.2,1441.9C127.6,1441.7 129.0,1441.4 130.4,1441.1C131.8,1440.8 133.1,1440.5 134.4,1440.1C135.8,1439.7 137.1,1439.2 138.3,1438.8C139.6,1438.3 140.9,1437.8 142.1,1437.2C143.3,1436.6 144.5,1436.0 145.7,1435.4C146.9,1434.7 148.1,1434.1 149.2,1433.3C150.4,1432.6 151.5,1431.9 152.6,1431.1C153.7,1430.3 154.8,1429.5 155.9,1428.7C157.0,1427.8 158.0,1427.0 159.1,1426.1C160.1,1425.2 161.1,1424.3 162.1,1423.4C163.1,1422.4 164.1,1421.5 165.1,1420.5C166.1,1419.5 167.0,1418.5 168.0,1417.5C168.9,1416.5 169.8,1415.5 170.8,1414.5C171.7,1413.4 172.6,1412.4 173.5,1411.3C174.3,1410.3 175.2,1409.2 176.1,1408.1C176.9,1407.1 177.8,1406.0 178.6,1404.9C179.5,1403.8 180.3,1402.7 181.1,1401.6C181.9,1400.5 182.7,1399.4 183.5,1398.3C184.3,1397.1 185.1,1396.0 185.9,1394.9C186.7,1393.8 187.4,1392.6 188.2,1391.5C188.9,1390.3 189.7,1389.2 190.4,1388.0C191.2,1386.9 191.9,1385.7 192.6,1384.5C193.3,1383.4 194.0,1382.2 194.7,1381.0C195.4,1379.8 196.1,1378.6 196.8,1377.4C197.5,1376.2 198.1,1375.1 198.8,1373.8C199.5,1372.6 200.1,1371.4 200.8,1370.2C201.4,1369.0 202.1,1367.8 202.7,1366.6C203.3,1365.4 204.0,1364.1 204.6,1362.9C205.2,1361.7 205.8,1360.4 206.4,1359.2C207.1,1358.0 207.7,1356.7 208.3,1355.5C208.9,1354.3 209.4,1353.0 210.0,1351.8C210.6,1350.5 211.2,1349.3 211.8,1348.0C212.4,1346.8 212.9,1345.5 213.5,1344.2C214.1,1343.0 214.6,1341.7 215.2,1340.5C215.8,1339.2 216.3,1337.9 216.9,1336.7C217.4,1335.4 218.0,1334.1 218.5,1332.9C219.1,1331.6 219.6,1330.3 220.2,1329.1C220.7,1327.8 221.2,1326.5 221.8,1325.2C222.3,1324.0 222.9,1322.7 223.4,1321.4C223.9,1320.2 224.5,1318.9 225.0,1317.6C225.5,1316.3 226.0,1315.1 226.6,1313.8C227.1,1312.5 227.6,1311.3 228.2,1310.0C228.7,1308.7 229.2,1307.4 229.7,1306.2C230.3,1304.9 230.8,1303.6 231.3,1302.4C231.8,1301.1 232.4,1299.8 232.9,1298.6C233.4,1297.3 233.9,1296.0 234.5,1294.8C235.0,1293.5 235.5,1292.2 236.0,1291.0C236.5,1289.7 237.1,1288.4 237.6,1287.2C238.1,1285.9 238.6,1284.6 239.2,1283.4C239.7,1282.1 240.2,1280.8 240.7,1279.6C241.2,1278.3 241.7,1277.0 242.3,1275.8C242.8,1274.5 243.3,1273.2 243.8,1272.0C244.3,1270.7 244.9,1269.4 245.4,1268.2C245.9,1266.9 246.4,1265.6 246.9,1264.4C247.4,1263.1 248.0,1261.8 248.5,1260.6C249.0,1259.3 249.5,1258.0 250.0,1256.7C250.5,1255.5 251.0,1254.2 251.6,1252.9C252.1,1251.6 252.6,1250.4 253.1,1249.1C253.6,1247.8 254.1,1246.5 254.6,1245.3C255.1,1244.0 255.7,1242.7 256.2,1241.4C256.7,1240.1 257.2,1238.9 257.7,1237.6C258.2,1236.3 258.7,1235.0 259.3,1233.8C259.8,1232.5 260.3,1231.2 260.9,1229.9C261.4,1228.7 261.9,1227.4 262.5,1226.1C263.0,1224.9 263.6,1223.6 264.2,1222.4C264.8,1221.1 265.3,1219.9 265.9,1218.6C266.5,1217.4 267.1,1216.1 267.8,1214.9C268.4,1213.7 269.0,1212.5 269.7,1211.3C270.3,1210.0 271.0,1208.8 271.7,1207.7C272.3,1206.5 273.0,1205.3 273.8,1204.1C274.5,1202.9 275.2,1201.8 276.0,1200.6C276.8,1199.5 277.6,1198.3 278.4,1197.2C279.2,1196.1 280.0,1195.0 280.9,1193.9C281.7,1192.8 282.6,1191.7 283.5,1190.7C284.4,1189.7 285.4,1188.6 286.3,1187.7C287.3,1186.7 288.3,1185.7 289.3,1184.8C290.3,1183.9 291.4,1183.1 292.5,1182.3C293.6,1181.4 294.7,1180.7 295.9,1180.0C297.0,1179.2 298.2,1178.6 299.4,1178.0C300.7,1177.4 301.9,1176.8 303.2,1176.4C304.5,1175.9 305.8,1175.5 307.2,1175.1C308.5,1174.8 309.8,1174.5 311.2,1174.2C312.6,1174.0 313.9,1173.9 315.3,1173.8C316.7,1173.6 318.1,1173.6 319.4,1173.6C320.8,1173.7 322.2,1173.8 323.5,1173.9C324.9,1174.0 326.3,1174.2 327.6,1174.5C329.0,1174.7 330.3,1175.0 331.7,1175.3C333.0,1175.6 334.4,1176.0 335.7,1176.3C337.1,1176.7 338.4,1177.1 339.8,1177.5C341.1,1177.9 342.5,1178.3 343.8,1178.8C345.2,1179.2 346.5,1179.6 347.8,1180.0C349.2,1180.5 350.5,1180.9 351.9,1181.3C353.2,1181.7 354.5,1182.1 355.9,1182.4C357.2,1182.8 358.6,1183.2 359.9,1183.5C361.2,1183.8 362.6,1184.0 363.9,1184.3C365.3,1184.5 366.6,1184.7 367.9,1184.8C369.3,1184.9 370.6,1185.0 372.0,1185.0C373.3,1185.0 374.7,1185.0 376.0,1184.9C377.3,1184.8 378.7,1184.6 380.0,1184.4C381.3,1184.2 382.7,1184.0 384.0,1183.7C385.3,1183.4 386.6,1183.0 387.9,1182.6C389.2,1182.2 390.5,1181.8 391.8,1181.3C393.1,1180.8 394.3,1180.3 395.6,1179.7C396.8,1179.1 398.1,1178.5 399.3,1177.9C400.5,1177.2 401.7,1176.5 402.8,1175.8C404.0,1175.1 405.2,1174.3 406.3,1173.5C407.4,1172.7 408.5,1171.9 409.6,1171.0C410.7,1170.2 411.7,1169.3 412.7,1168.3C413.8,1167.4 414.8,1166.5 415.8,1165.5C416.8,1164.5 417.7,1163.6 418.7,1162.6C419.7,1161.6 420.6,1160.6 421.6,1159.6C422.6,1158.6 423.5,1157.6 424.5,1156.6C425.4,1155.6 426.4,1154.6 427.4,1153.6C428.3,1152.7 429.3,1151.7 430.3,1150.8C431.3,1149.9 432.3,1148.9 433.4,1148.1C434.4,1147.2 435.5,1146.3 436.6,1145.5C437.7,1144.7 438.8,1143.9 439.9,1143.2C441.1,1142.4 442.2,1141.6 443.4,1140.9C444.5,1140.2 445.7,1139.4 446.9,1138.8C448.1,1138.1 449.3,1137.4 450.5,1136.8C451.7,1136.2 453.0,1135.6 454.2,1135.1C455.5,1134.6 456.8,1134.1 458.1,1133.6C459.4,1133.2 460.7,1132.8 462.0,1132.4C463.3,1132.1 464.7,1131.7 466.0,1131.5C467.4,1131.2 468.7,1131.0 470.1,1130.9C471.4,1130.7 472.8,1130.6 474.2,1130.5C475.5,1130.5 476.9,1130.5 478.3,1130.6C479.7,1130.6 481.0,1130.7 482.4,1130.9C483.8,1131.0 485.2,1131.2 486.6,1131.4C488.0,1131.5 489.3,1131.7 490.7,1131.9C492.1,1132.1 493.5,1132.3 494.8,1132.4C496.2,1132.5 497.6,1132.6 498.9,1132.7C500.3,1132.8 501.7,1132.8 503.0,1132.8C504.4,1132.9 505.8,1132.9 507.1,1132.9C508.5,1132.9 509.8,1132.9 511.2,1132.9C512.6,1133.0 513.9,1133.0 515.3,1133.1C516.7,1133.1 518.1,1133.2 519.5,1133.3C520.8,1133.4 522.2,1133.6 523.6,1133.7C525.0,1133.9 526.4,1134.1 527.7,1134.3C529.1,1134.6 530.5,1134.8 531.8,1135.1C533.2,1135.4 534.5,1135.7 535.8,1136.1C537.2,1136.5 538.5,1136.9 539.8,1137.3C541.1,1137.7 542.4,1138.2 543.6,1138.7C544.9,1139.2 546.1,1139.8 547.4,1140.4C548.6,1141.0 549.8,1141.6 550.9,1142.3C552.1,1143.0 553.2,1143.7 554.3,1144.5C555.5,1145.2 556.6,1146.0 557.6,1146.9C558.7,1147.7 559.8,1148.5 560.8,1149.4C561.8,1150.3 562.8,1151.2 563.8,1152.2C564.8,1153.1 565.8,1154.1 566.8,1155.1C567.8,1156.0 568.7,1157.0 569.7,1158.1C570.6,1159.1 571.6,1160.1 572.5,1161.1C573.4,1162.2 574.4,1163.2 575.3,1164.3C576.2,1165.4 577.1,1166.4 578.0,1167.5C578.9,1168.6 579.8,1169.6 580.7,1170.7C581.6,1171.8 582.5,1172.8 583.4,1173.9C584.3,1175.0 585.2,1176.0 586.2,1177.1C587.1,1178.1 588.0,1179.1 588.9,1180.2C589.8,1181.2 590.7,1182.2 591.7,1183.2C592.6,1184.2 593.6,1185.2 594.5,1186.1C595.4,1187.1 596.4,1188.1 597.4,1189.0C598.3,1190.0 599.3,1190.9 600.3,1191.8C601.3,1192.8 602.2,1193.7 603.2,1194.6C604.2,1195.5 605.2,1196.5 606.3,1197.4C607.3,1198.3 608.3,1199.2 609.3,1200.1C610.4,1201.0 611.4,1201.8 612.5,1202.7C613.5,1203.6 614.6,1204.5 615.7,1205.3C616.8,1206.1 617.9,1207.0 619.0,1207.8C620.1,1208.6 621.3,1209.4 622.4,1210.2C623.6,1211.0 624.7,1211.7 625.9,1212.5C627.0,1213.3 628.2,1214.1 629.3,1214.9C630.4,1215.7 631.6,1216.5 632.7,1217.3C633.8,1218.1 634.9,1219.0 635.9,1219.8C637.0,1220.7 638.0,1221.6 639.0,1222.5C640.0,1223.4 641.0,1224.4 641.9,1225.4C642.9,1226.4 643.8,1227.4 644.6,1228.4C645.5,1229.5 646.3,1230.6 647.2,1231.7C648.0,1232.8 648.7,1233.9 649.5,1235.0C650.3,1236.2 651.0,1237.3 651.7,1238.5C652.5,1239.7 653.2,1240.9 653.8,1242.1C654.5,1243.3 655.2,1244.5 655.9,1245.7C656.5,1246.9 657.2,1248.2 657.8,1249.4C658.4,1250.6 659.1,1251.9 659.7,1253.1C660.3,1254.4 660.9,1255.6 661.5,1256.8C662.1,1258.1 662.7,1259.3 663.3,1260.6C663.9,1261.8 664.5,1263.1 665.1,1264.3C665.6,1265.6 666.2,1266.8 666.8,1268.1C667.3,1269.3 667.9,1270.6 668.5,1271.8C669.0,1273.1 669.6,1274.4 670.1,1275.6C670.6,1276.9 671.2,1278.1 671.7,1279.4C672.3,1280.7 672.8,1281.9 673.3,1283.2C673.8,1284.5 674.4,1285.7 674.9,1287.0C675.4,1288.3 675.9,1289.5 676.4,1290.8C676.9,1292.1 677.4,1293.3 677.9,1294.6C678.5,1295.9 679.0,1297.1 679.5,1298.4C680.0,1299.7 680.5,1301.0 680.9,1302.2C681.4,1303.5 681.9,1304.8 682.4,1306.1C682.9,1307.3 683.4,1308.6 683.9,1309.9C684.4,1311.2 684.9,1312.5 685.4,1313.7C685.8,1315.0 686.3,1316.3 686.8,1317.6C687.3,1318.9 687.8,1320.2 688.3,1321.4C688.7,1322.7 689.2,1324.0 689.7,1325.3C690.2,1326.6 690.7,1327.9 691.2,1329.1C691.6,1330.4 692.1,1331.7 692.6,1333.0C693.1,1334.3 693.6,1335.6 694.1,1336.9C694.6,1338.1 695.1,1339.4 695.5,1340.7C696.0,1342.0 696.5,1343.3 697.0,1344.6C697.5,1345.9 698.0,1347.2 698.5,1348.4C699.0,1349.7 699.5,1351.0 700.0,1352.3C700.5,1353.6 701.1,1354.9 701.6,1356.2C702.1,1357.5 702.6,1358.7 703.1,1360.0C703.6,1361.3 704.2,1362.6 704.7,1363.9C705.2,1365.1 705.8,1366.4 706.3,1367.7C706.9,1369.0 707.4,1370.2 708.0,1371.5C708.6,1372.8 709.1,1374.0 709.7,1375.3C710.3,1376.5 710.9,1377.8 711.5,1379.0C712.1,1380.3 712.7,1381.5 713.3,1382.8C713.9,1384.0 714.5,1385.2 715.2,1386.4C715.8,1387.7 716.4,1388.9 717.1,1390.1C717.8,1391.3 718.4,1392.5 719.1,1393.7C719.8,1394.9 720.5,1396.0 721.2,1397.2C721.9,1398.4 722.6,1399.5 723.4,1400.7C724.1,1401.8 724.9,1403.0 725.6,1404.1C726.4,1405.2 727.2,1406.3 728.0,1407.5C728.8,1408.6 729.6,1409.7 730.4,1410.7C731.3,1411.8 732.1,1412.9 733.0,1413.9C733.8,1415.0 734.7,1416.0 735.6,1417.1C736.5,1418.1 737.5,1419.1 738.4,1420.1C739.3,1421.1 740.3,1422.1 741.3,1423.0C742.3,1424.0 743.3,1425.0 744.3,1425.9C745.3,1426.8 746.4,1427.7 747.4,1428.6C748.5,1429.4 749.6,1430.3 750.7,1431.1C751.8,1431.9 752.9,1432.7 754.1,1433.4C755.3,1434.1 756.4,1434.8 757.7,1435.5C758.9,1436.1 760.1,1436.7 761.4,1437.3C762.6,1437.8 763.9,1438.3 765.2,1438.7C766.5,1439.2 767.9,1439.5 769.2,1439.9C770.6,1440.2 772.7,1440.5 773.4,1440.6"/>
<path class="dash" d="M326.5,1463.6V895.6"/>
<path class="dash" d="M567.6,1463.6V895.6"/>
<text class="txt" x="210.4" y="944.4">Unmethylated: 21.37 %</text>
<text class="txt" x="204.0" y="985.8">Hemimethylated: 55.81 %</text>
<text class="txt" x="218.3" y="1026.5">Methylated: 22.82 %</text>
<rect class="box" x="121.5" y="895.6" width="651.1" height="569.2"/>
<path class="tick" d="M145.6,1464.9v13.8M266.2,1464.9v13.8M386.8,1464.9v13.8M507.3,1464.9v13.8M627.9,1464.9v13.8M748.5,1464.9v13.8M121.5,1443.8h-13.8M121.5,1338.4h-13.8M121.5,1233.0h-13.8M121.5,1127.6h-13.8M121.5,1022.2h-13.8M121.5,916.7h-13.8"/>
<text class="ax" text-anchor="middle" x="145.6" y="1514.5">0.0</text>
<text class="ax" text-anchor="middle" x="266.2" y="1514.5">0.2</text>
<text class="ax" text-anchor="middle" x="386.8" y="1514.5">0.4</text>
<text class="ax" text-anchor="middle" x="507.3" y="1514.5">0.6</text>
<text class="ax" text-anchor="middle" x="627.9" y="1514.5">0.8</text>
<text class="ax" text-anchor="middle" x="748.5" y="1514.5">1.0</text>
<text class="ax" text-anchor="end" x="93.5" y="1456.0">0.0</text>
<text class="ax" text-anchor="end" x="93.5" y="1350.6">0.5</text>
<text class="ax" text-anchor="end" x="93.5" y="1245.2">1.0</text>
<text class="ax" text-anchor="end" x="93.5" y="1139.8">1.5</text>
<text class="ax" text-anchor="end" x="93.5" y="1034.4">2.0</text>
<text class="ax" text-anchor="end" x="93.5" y="928.9">2.5</text>
<text class="lab" text-anchor="middle" x="445.6" y="1566.5">Median methylation</text>
<text class="lab" text-anchor="middle" transform="translate(27.3,1180.8) rotate(-90)">Density</text>
<text class="main" text-anchor="middle" x="446.8" y="831.6">eQTMs</text>
<text class="main" text-anchor="middle" x="446.8" y="872.8">n = 482</text>
<text class="tag" x="125.3" y="853.1">C</text>
</g>
<g id="panelD">
<clipPath id="clipD"><rect x="941.5" y="895.6" width="651.1" height="569.2"/></clipPath>
<path class="curve" clip-path="url(#clipD)" d="M941.9,1430.2C942.5,1429.8 944.4,1428.7 945.6,1427.9C946.8,1427.2 948.0,1426.4 949.1,1425.5C950.3,1424.7 951.5,1423.9 952.6,1423.0C953.7,1422.2 954.8,1421.3 955.9,1420.4C957.0,1419.5 958.1,1418.6 959.1,1417.7C960.1,1416.7 961.2,1415.8 962.2,1414.8C963.2,1413.9 964.2,1412.9 965.2,1411.9C966.1,1410.9 967.1,1409.9 968.0,1408.8C969.0,1407.8 969.9,1406.8 970.8,1405.7C971.7,1404.6 972.6,1403.6 973.5,1402.5C974.4,1401.4 975.2,1400.3 976.1,1399.2C976.9,1398.1 977.8,1397.0 978.6,1395.8C979.4,1394.7 980.3,1393.6 981.1,1392.4C981.9,1391.3 982.6,1390.1 983.4,1388.9C984.2,1387.7 985.0,1386.6 985.7,1385.4C986.5,1384.2 987.2,1383.0 988.0,1381.8C988.7,1380.6 989.4,1379.4 990.2,1378.1C990.9,1376.9 991.6,1375.7 992.3,1374.5C993.0,1373.2 993.7,1372.0 994.4,1370.7C995.1,1369.5 995.8,1368.3 996.5,1367.0C997.2,1365.7 997.8,1364.5 998.5,1363.2C999.2,1362.0 999.8,1360.7 1000.5,1359.4C1001.2,1358.2 1001.8,1356.9 1002.5,1355.7C1003.2,1354.4 1003.8,1353.1 1004.5,1351.8C1005.1,1350.6 1005.8,1349.3 1006.4,1348.0C1007.1,1346.8 1007.7,1345.5 1008.4,1344.2C1009.0,1343.0 1009.7,1341.7 1010.3,1340.4C1010.9,1339.2 1011.6,1337.9 1012.2,1336.6C1012.9,1335.4 1013.5,1334.1 1014.2,1332.8C1014.8,1331.6 1015.4,1330.3 1016.1,1329.0C1016.7,1327.8 1017.4,1326.5 1018.0,1325.3C1018.6,1324.0 1019.3,1322.7 1019.9,1321.5C1020.5,1320.2 1021.2,1318.9 1021.8,1317.7C1022.5,1316.4 1023.1,1315.1 1023.7,1313.9C1024.4,1312.6 1025.0,1311.4 1025.6,1310.1C1026.3,1308.8 1026.9,1307.6 1027.5,1306.3C1028.2,1305.1 1028.8,1303.8 1029.4,1302.5C1030.1,1301.3 1030.7,1300.0 1031.4,1298.8C1032.0,1297.5 1032.6,1296.2 1033.3,1295.0C1033.9,1293.7 1034.5,1292.5 1035.2,1291.2C1035.8,1290.0 1036.4,1288.7 1037.1,1287.4C1037.7,1286.2 1038.4,1284.9 1039.0,1283.7C1039.6,1282.4 1040.3,1281.2 1040.9,1279.9C1041.6,1278.7 1042.2,1277.4 1042.8,1276.2C1043.5,1274.9 1044.1,1273.7 1044.8,1272.4C1045.4,1271.1 1046.1,1269.9 1046.7,1268.6C1047.4,1267.4 1048.0,1266.1 1048.7,1264.9C1049.3,1263.6 1049.9,1262.4 1050.6,1261.1C1051.3,1259.9 1051.9,1258.7 1052.6,1257.4C1053.2,1256.2 1053.9,1254.9 1054.5,1253.7C1055.2,1252.4 1055.8,1251.2 1056.5,1249.9C1057.2,1248.7 1057.8,1247.4 1058.5,1246.2C1059.1,1245.0 1059.8,1243.7 1060.5,1242.5C1061.1,1241.2 1061.8,1240.0 1062.5,1238.7C1063.2,1237.5 1063.8,1236.3 1064.5,1235.0C1065.2,1233.8 1065.9,1232.6 1066.6,1231.4C1067.3,1230.1 1068.0,1228.9 1068.8,1227.7C1069.5,1226.5 1070.2,1225.3 1071.0,1224.1C1071.7,1222.9 1072.5,1221.7 1073.2,1220.5C1074.0,1219.3 1074.8,1218.1 1075.6,1216.9C1076.4,1215.8 1077.2,1214.6 1078.0,1213.5C1078.9,1212.3 1079.7,1211.2 1080.6,1210.0C1081.5,1208.9 1082.4,1207.8 1083.3,1206.7C1084.2,1205.5 1085.1,1204.5 1086.1,1203.4C1087.0,1202.3 1088.0,1201.2 1089.0,1200.2C1090.0,1199.2 1091.0,1198.2 1092.0,1197.2C1093.1,1196.2 1094.1,1195.2 1095.2,1194.3C1096.3,1193.4 1097.4,1192.5 1098.5,1191.6C1099.6,1190.7 1100.8,1189.9 1101.9,1189.1C1103.1,1188.3 1104.3,1187.6 1105.5,1186.8C1106.7,1186.1 1107.9,1185.4 1109.1,1184.8C1110.4,1184.2 1111.6,1183.6 1112.9,1183.1C1114.2,1182.5 1115.5,1182.0 1116.8,1181.6C1118.2,1181.2 1119.5,1180.8 1120.9,1180.5C1122.3,1180.1 1123.6,1179.9 1125.0,1179.6C1126.4,1179.4 1127.8,1179.2 1129.2,1179.1C1130.6,1179.0 1132.1,1178.9 1133.5,1178.9C1134.9,1178.9 1136.3,1178.9 1137.7,1179.0C1139.1,1179.0 1140.5,1179.2 1141.9,1179.3C1143.3,1179.5 1144.7,1179.7 1146.0,1180.0C1147.4,1180.3 1148.8,1180.6 1150.1,1181.0C1151.4,1181.4 1152.7,1181.8 1154.1,1182.3C1155.4,1182.7 1156.7,1183.2 1157.9,1183.8C1159.2,1184.3 1160.5,1184.9 1161.8,1185.5C1163.0,1186.1 1164.3,1186.7 1165.6,1187.3C1166.8,1188.0 1168.1,1188.7 1169.3,1189.4C1170.6,1190.1 1171.8,1190.8 1173.0,1191.5C1174.3,1192.2 1175.5,1193.0 1176.8,1193.8C1178.0,1194.5 1179.2,1195.3 1180.5,1196.0C1181.7,1196.8 1183.0,1197.6 1184.2,1198.3C1185.5,1199.1 1186.7,1199.9 1188.0,1200.6C1189.2,1201.4 1190.5,1202.2 1191.8,1202.9C1193.0,1203.6 1194.3,1204.4 1195.6,1205.1C1196.8,1205.8 1198.1,1206.5 1199.4,1207.1C1200.7,1207.8 1201.9,1208.4 1203.2,1209.0C1204.5,1209.6 1205.8,1210.2 1207.1,1210.8C1208.4,1211.3 1209.7,1211.8 1211.0,1212.3C1212.3,1212.7 1213.6,1213.1 1214.9,1213.5C1216.2,1213.9 1217.5,1214.2 1218.9,1214.5C1220.2,1214.7 1221.5,1214.9 1222.8,1215.1C1224.1,1215.2 1225.5,1215.3 1226.8,1215.3C1228.2,1215.4 1229.5,1215.3 1230.8,1215.2C1232.2,1215.1 1233.5,1214.9 1234.9,1214.7C1236.2,1214.4 1237.6,1214.1 1238.9,1213.8C1240.2,1213.4 1241.5,1213.0 1242.8,1212.6C1244.1,1212.1 1245.4,1211.6 1246.7,1211.0C1248.0,1210.4 1249.3,1209.8 1250.5,1209.1C1251.7,1208.4 1252.9,1207.7 1254.1,1207.0C1255.3,1206.2 1256.5,1205.4 1257.6,1204.5C1258.8,1203.7 1259.9,1202.8 1261.0,1201.9C1262.1,1201.0 1263.2,1200.0 1264.2,1199.1C1265.3,1198.1 1266.3,1197.1 1267.3,1196.1C1268.4,1195.0 1269.4,1194.0 1270.4,1192.9C1271.3,1191.8 1272.3,1190.8 1273.3,1189.7C1274.2,1188.6 1275.2,1187.5 1276.1,1186.3C1277.0,1185.2 1278.0,1184.1 1278.9,1183.0C1279.8,1181.9 1280.7,1180.7 1281.6,1179.6C1282.4,1178.5 1283.3,1177.3 1284.2,1176.2C1285.1,1175.1 1285.9,1174.0 1286.8,1172.9C1287.7,1171.7 1288.5,1170.6 1289.4,1169.5C1290.2,1168.4 1291.1,1167.3 1291.9,1166.2C1292.8,1165.1 1293.7,1164.0 1294.5,1162.9C1295.4,1161.8 1296.2,1160.7 1297.1,1159.6C1298.0,1158.5 1298.9,1157.4 1299.7,1156.4C1300.6,1155.3 1301.5,1154.2 1302.4,1153.2C1303.3,1152.1 1304.2,1151.0 1305.2,1150.0C1306.1,1148.9 1307.0,1147.9 1308.0,1146.9C1308.9,1145.8 1309.9,1144.8 1310.9,1143.8C1311.9,1142.8 1312.9,1141.8 1313.9,1140.8C1314.9,1139.8 1316.0,1138.8 1317.0,1137.8C1318.1,1136.8 1319.2,1135.8 1320.3,1134.9C1321.4,1133.9 1322.6,1133.0 1323.7,1132.1C1324.9,1131.2 1326.0,1130.3 1327.2,1129.5C1328.4,1128.6 1329.6,1127.8 1330.8,1127.1C1332.1,1126.3 1333.3,1125.6 1334.5,1124.9C1335.8,1124.2 1337.1,1123.6 1338.3,1123.0C1339.6,1122.4 1340.9,1121.9 1342.2,1121.4C1343.5,1120.9 1344.9,1120.5 1346.2,1120.2C1347.5,1119.9 1348.9,1119.6 1350.2,1119.4C1351.6,1119.2 1353.0,1119.1 1354.3,1119.1C1355.7,1119.0 1357.1,1119.0 1358.5,1119.1C1359.8,1119.2 1361.2,1119.4 1362.6,1119.6C1364.0,1119.9 1365.4,1120.2 1366.7,1120.5C1368.1,1120.8 1369.5,1121.2 1370.8,1121.7C1372.2,1122.1 1373.5,1122.6 1374.9,1123.2C1376.2,1123.7 1377.5,1124.3 1378.8,1124.9C1380.1,1125.5 1381.4,1126.1 1382.6,1126.8C1383.8,1127.5 1385.1,1128.2 1386.3,1128.9C1387.5,1129.7 1388.6,1130.4 1389.8,1131.2C1390.9,1132.0 1392.1,1132.8 1393.2,1133.6C1394.3,1134.5 1395.4,1135.3 1396.4,1136.2C1397.5,1137.1 1398.5,1138.0 1399.6,1139.0C1400.6,1139.9 1401.6,1140.8 1402.6,1141.8C1403.6,1142.8 1404.5,1143.8 1405.5,1144.8C1406.4,1145.8 1407.4,1146.9 1408.3,1147.9C1409.2,1149.0 1410.1,1150.0 1411.0,1151.1C1411.9,1152.2 1412.7,1153.3 1413.6,1154.5C1414.4,1155.6 1415.3,1156.7 1416.1,1157.9C1416.9,1159.0 1417.7,1160.2 1418.5,1161.3C1419.3,1162.5 1420.1,1163.7 1420.9,1164.9C1421.7,1166.1 1422.4,1167.3 1423.2,1168.5C1423.9,1169.8 1424.7,1171.0 1425.4,1172.2C1426.1,1173.5 1426.9,1174.7 1427.6,1176.0C1428.3,1177.2 1429.0,1178.5 1429.7,1179.8C1430.4,1181.0 1431.1,1182.3 1431.8,1183.6C1432.4,1184.8 1433.1,1186.1 1433.8,1187.4C1434.4,1188.7 1435.1,1190.0 1435.8,1191.3C1436.4,1192.5 1437.1,1193.8 1437.7,1195.1C1438.4,1196.4 1439.0,1197.7 1439.7,1199.0C1440.3,1200.3 1441.0,1201.6 1441.6,1202.8C1442.2,1204.1 1442.9,1205.4 1443.5,1206.7C1444.1,1208.0 1444.8,1209.2 1445.4,1210.5C1446.0,1211.8 1446.7,1213.1 1447.3,1214.3C1447.9,1215.6 1448.5,1216.9 1449.1,1218.2C1449.8,1219.4 1450.4,1220.7 1451.0,1222.0C1451.6,1223.2 1452.2,1224.5 1452.8,1225.8C1453.4,1227.0 1454.0,1228.3 1454.6,1229.6C1455.3,1230.8 1455.9,1232.1 1456.5,1233.4C1457.1,1234.6 1457.7,1235.9 1458.2,1237.1C1458.8,1238.4 1459.4,1239.7 1460.0,1240.9C1460.6,1242.2 1461.2,1243.5 1461.8,1244.7C1462.4,1246.0 1463.0,1247.3 1463.5,1248.5C1464.1,1249.8 1464.7,1251.1 1465.3,1252.3C1465.9,1253.6 1466.4,1254.9 1467.0,1256.1C1467.6,1257.4 1468.2,1258.7 1468.7,1259.9C1469.3,1261.2 1469.9,1262.5 1470.4,1263.7C1471.0,1265.0 1471.6,1266.3 1472.1,1267.6C1472.7,1268.8 1473.2,1270.1 1473.8,1271.4C1474.4,1272.7 1474.9,1273.9 1475.5,1275.2C1476.0,1276.5 1476.6,1277.8 1477.1,1279.1C1477.7,1280.3 1478.2,1281.6 1478.8,1282.9C1479.3,1284.2 1479.9,1285.5 1480.4,1286.8C1480.9,1288.1 1481.5,1289.4 1482.0,1290.7C1482.6,1291.9 1483.1,1293.2 1483.6,1294.5C1484.2,1295.8 1484.7,1297.2 1485.2,1298.5C1485.8,1299.8 1486.3,1301.1 1486.8,1302.4C1487.3,1303.7 1487.9,1305.0 1488.4,1306.3C1488.9,1307.6 1489.4,1308.9 1490.0,1310.3C1490.5,1311.6 1491.0,1312.9 1491.6,1314.2C1492.1,1315.5 1492.6,1316.8 1493.1,1318.2C1493.7,1319.5 1494.2,1320.8 1494.7,1322.1C1495.3,1323.4 1495.8,1324.8 1496.3,1326.1C1496.9,1327.4 1497.4,1328.7 1498.0,1330.0C1498.5,1331.4 1499.1,1332.7 1499.6,1334.0C1500.1,1335.3 1500.7,1336.6 1501.3,1337.9C1501.8,1339.2 1502.4,1340.6 1502.9,1341.9C1503.5,1343.2 1504.1,1344.5 1504.6,1345.8C1505.2,1347.1 1505.8,1348.4 1506.4,1349.7C1506.9,1351.0 1507.5,1352.3 1508.1,1353.6C1508.7,1354.9 1509.3,1356.2 1509.9,1357.5C1510.5,1358.8 1511.1,1360.1 1511.7,1361.3C1512.3,1362.6 1513.0,1363.9 1513.6,1365.2C1514.2,1366.4 1514.9,1367.7 1515.5,1369.0C1516.2,1370.3 1516.8,1371.5 1517.5,1372.8C1518.1,1374.0 1518.8,1375.3 1519.5,1376.5C1520.2,1377.8 1520.8,1379.0 1521.5,1380.2C1522.2,1381.5 1522.9,1382.7 1523.7,1383.9C1524.4,1385.2 1525.1,1386.4 1525.8,1387.6C1526.6,1388.8 1527.3,1390.0 1528.1,1391.2C1528.8,1392.3 1529.6,1393.5 1530.4,1394.7C1531.2,1395.9 1532.0,1397.0 1532.8,1398.2C1533.6,1399.3 1534.5,1400.4 1535.3,1401.5C1536.2,1402.7 1537.0,1403.8 1537.9,1404.9C1538.8,1406.0 1539.7,1407.0 1540.6,1408.1C1541.5,1409.2 1542.4,1410.2 1543.4,1411.2C1544.3,1412.3 1545.3,1413.3 1546.2,1414.3C1547.2,1415.3 1548.2,1416.3 1549.2,1417.2C1550.3,1418.2 1551.3,1419.1 1552.4,1420.0C1553.4,1421.0 1554.5,1421.9 1555.6,1422.8C1556.7,1423.6 1557.8,1424.5 1559.0,1425.3C1560.1,1426.2 1561.3,1427.0 1562.5,1427.8C1563.7,1428.6 1564.9,1429.4 1566.1,1430.1C1567.3,1430.8 1568.6,1431.5 1569.9,1432.2C1571.1,1432.8 1572.4,1433.5 1573.7,1434.1C1575.0,1434.7 1576.3,1435.2 1577.6,1435.7C1578.9,1436.3 1580.3,1436.7 1581.6,1437.1C1582.9,1437.6 1584.3,1438.0 1585.7,1438.3C1587.0,1438.6 1588.4,1438.9 1589.8,1439.1C1591.2,1439.3 1593.3,1439.6 1594.0,1439.6"/>
<path class="dash" d="M1146.5,1463.6V895.6"/>
<path class="dash" d="M1387.6,1463.6V895.6"/>
<text class="txt" x="1030.4" y="944.4">Unmethylated: 24.56 %</text>
<text class="txt" x="1024.0" y="985.8">Hemimethylated: 53.51 %</text>
<text class="txt" x="1038.3" y="1026.5">Methylated: 21.93 %</text>
<rect class="box" x="941.5" y="895.6" width="651.1" height="569.2"/>
<path class="tick" d="M965.6,1464.9v13.8M1086.2,1464.9v13.8M1206.8,1464.9v13.8M1327.3,1464.9v13.8M1447.9,1464.9v13.8M1568.5,1464.9v13.8M941.5,1443.8h-13.8M941.5,1338.4h-13.8M941.5,1233.0h-13.8M941.5,1127.6h-13.8M941.5,1022.2h-13.8M941.5,916.7h-13.8"/>
<text class="ax" text-anchor="middle" x="965.6" y="1514.5">0.0</text>
<text class="ax" text-anchor="middle" x="1086.2" y="1514.5">0.2</text>
<text class="ax" text-anchor="middle" x="1206.8" y="1514.5">0.4</text>
<text class="ax" text-anchor="middle" x="1327.3" y="1514.5">0.6</text>
<text class="ax" text-anchor="middle" x="1447.9" y="1514.5">0.8</text>
<text class="ax" text-anchor="middle" x="1568.5" y="1514.5">1.0</text>
<text class="ax" text-anchor="end" x="913.5" y="1456.0">0.0</text>
<text class="ax" text-anchor="end" x="913.5" y="1350.6">0.5</text>
<text class="ax" text-anchor="end" x="913.5" y="1245.2">1.0</text>
<text class="ax" text-anchor="end" x="913.5" y="1139.8">1.5</text>
<text class="ax" text-anchor="end" x="913.5" y="1034.4">2.0</text>
<text class="ax" text-anchor="end" x="913.5" y="928.9">2.5</text>
<text class="lab" text-anchor="middle" x="1265.6" y="1566.5">Median methylation</text>
<text class="lab" text-anchor="middle" transform="translate(850.2,1180.8) rotate(-90)">Density</text>
<text class="main" text-anchor="middle" x="1266.8" y="831.6">meQTLs</text>
<text class="main" text-anchor="middle" x="1266.8" y="872.8">n = 114</text>
<text class="tag" x="946.2" y="849.4">D</text>
</g>
</svg>
</body></html>
